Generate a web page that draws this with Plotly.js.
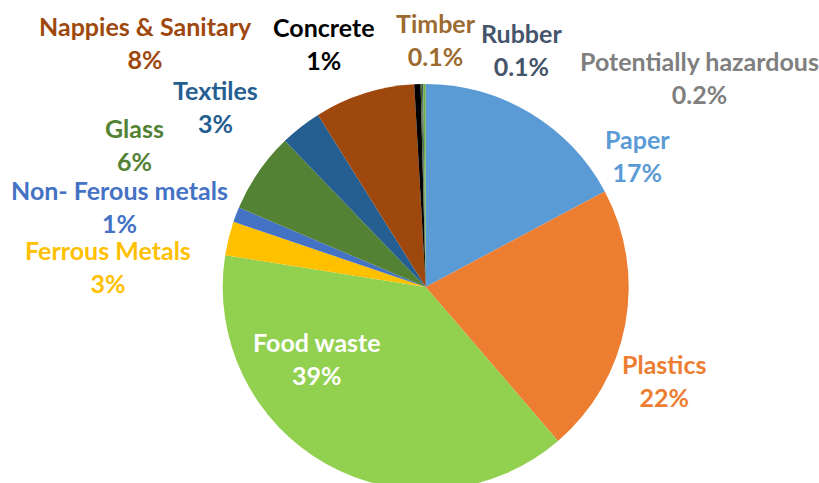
<!DOCTYPE html>
<html>
<head>
<meta charset="utf-8">
<script src="https://cdn.plot.ly/plotly-3.0.1.min.js"></script>
<style>
html, body { margin: 0; padding: 0; overflow: hidden; background: #fff; }
#chart { width: 819px; height: 500px; }
</style>
</head>
<body>
<div id="chart"></div>
<script>
// Data
var categories = ['Paper', 'Plastics', 'Food waste', 'Ferrous Metals', 'Non- Ferous metals', 'Glass',
                  'Textiles', 'Nappies & Sanitary', 'Concrete', 'Timber', 'Rubber', 'Potentially hazardous'];
var shares = [17.2, 21.5, 38.8, 2.7, 1.2, 6.4, 3.3, 8.0, 0.5, 0.1, 0.1, 0.2];
var shareLabels = ['17%', '22%', '39%', '3%', '1%', '6%', '3%', '8%', '1%', '0.1%', '0.1%', '0.2%'];

// Styles
var sliceColors = ['#5B9BD5', '#ED7D31', '#92D050', '#FFC000', '#4472C4', '#548235',
                   '#255E91', '#9E480E', '#000000', '#43682B', '#44546A', '#70AD47'];
var labelColors = ['#5B9BD5', '#ED7D31', '#FFFFFF', '#FFC000', '#4472C4', '#548235',
                   '#255E91', '#9E480E', '#000000', '#9C6B30', '#44546A', '#7F7F7F'];
// label block centres, pixels from top-left
var labelPos = [[637,155],[664,380],[317,358],[108,266],[119,206],[134,144],
                [215,107],[145,43],[324,44],[436,40],[521,50],[699,77]];

var W = 819, H = 500;
var cx = 425.7, cy = 287, R = 203;

var annotations = categories.map(function (c, i) {
  return {
    xref: 'paper', yref: 'paper',
    x: labelPos[i][0] / W, y: (H - labelPos[i][1]) / H,
    xanchor: 'center', yanchor: 'middle', align: 'center',
    showarrow: false,
    text: '<b>' + c + '</b><br><b>' + shareLabels[i] + '</b>',
    font: { family: 'Lato, "Open Sans", sans-serif', size: 25, color: labelColors[i] }
  };
});

var trace = {
  type: 'pie',
  labels: categories,
  values: shares,
  sort: false,
  direction: 'clockwise',
  rotation: 0,
  textinfo: 'none',
  hoverinfo: 'label+percent',
  marker: { colors: sliceColors, line: { width: 0 } },
  domain: { x: [(cx - R) / W, (cx + R) / W], y: [(H - cy - R) / H, (H - cy + R) / H] }
};

Plotly.newPlot('chart', [trace], {
  width: W, height: H,
  margin: { l: 0, r: 0, t: 0, b: 0 },
  showlegend: false,
  paper_bgcolor: '#ffffff',
  annotations: annotations
}, { displayModeBar: false, staticPlot: true });
</script>
</body>
</html>
